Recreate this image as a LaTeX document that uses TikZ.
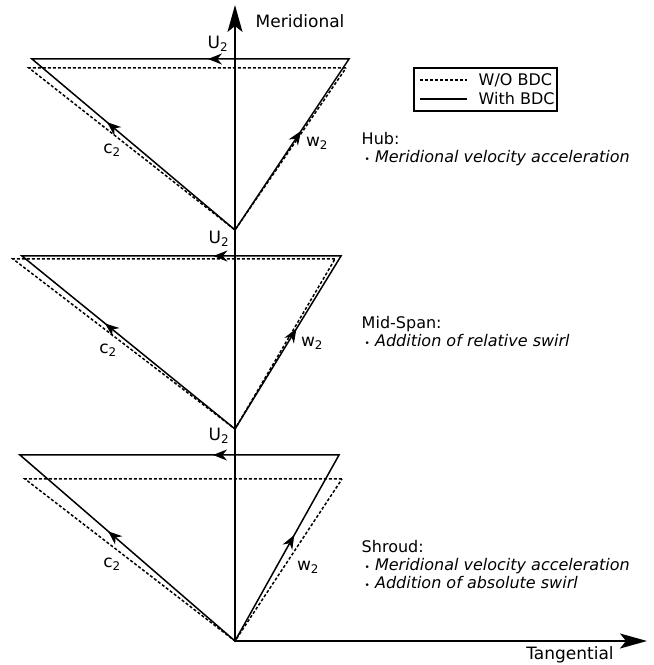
\documentclass[tikz,border=0pt]{standalone}
\usepackage{fontspec}
\setmainfont{DejaVu Sans}
\usetikzlibrary{arrows.meta,decorations.markings}

\begin{document}
\begin{tikzpicture}[x=1pt,y=1pt,line width=1.5pt,
    axis/.style={-{Stealth[length=27pt,width=15pt,inset=6pt]}},
    vec/.style={postaction={decorate},decoration={markings,
        mark=at position #1 with {\arrow{Stealth[length=14pt,width=11pt,inset=4.5pt]}}}},
    wobdc/.style={dash pattern=on 3pt off 2pt},
    lbl/.style={font=\fontsize{16}{18}\selectfont,inner sep=0pt},
    vlabel/.style={font=\fontsize{17}{19}\selectfont,inner sep=0pt},
    note/.style={lbl,align=left,anchor=west},
    axlabel/.style={font=\fontsize{17}{19}\selectfont,inner sep=0pt}]

  \useasboundingbox (-235,-24) rectangle (419,641);

  % axes
  \coordinate (o) at (0,0);
  \coordinate (ytip) at (0,636);
  \coordinate (xtip) at (412,0);
  \draw[axis] (o) -- (ytip);
  \draw[axis] (o) -- (xtip);
  \node[axlabel,anchor=west] (mer) at (20,620) {Meridional};
  \node[axlabel] (tang) at (335,-14) {Tangential};

  % hub
  \coordinate (ha) at (0,411);
  \coordinate (hl) at (-203,582);
  \coordinate (hr) at (114,582);
  \coordinate (hdl) at (-206,573);
  \coordinate (hdr) at (111,573);
  \draw[wobdc] (hdr) -- (hdl) -- (ha) -- cycle;
  \draw (hr) -- (hl) -- (ha) -- cycle;
  \path[vec=0.445] (hr) -- (hl);
  \path[vec=0.63] (ha) -- (hl);
  \path[vec=0.58] (ha) -- (hr);
  \node[vlabel] (hu) at (-17,597) {U\textsubscript{2}};
  \node[vlabel] (hc) at (-123,491) {c\textsubscript{2}};
  \node[vlabel] (hw) at (82,498) {w\textsubscript{2}};

  % mid-span
  \coordinate (ma) at (0,212);
  \coordinate (ml) at (-213,385);
  \coordinate (mr) at (106,385);
  \coordinate (mdl) at (-222,382);
  \coordinate (mdr) at (100,382);
  \draw[wobdc] (mdr) -- (mdl) -- (ma) -- cycle;
  \draw (mr) -- (ml) -- (ma) -- cycle;
  \path[vec=0.40] (mr) -- (ml);
  \path[vec=0.61] (ma) -- (ml);
  \path[vec=0.58] (ma) -- (mr);
  \node[vlabel] (mu) at (-16,402) {U\textsubscript{2}};
  \node[vlabel] (mc) at (-127,291) {c\textsubscript{2}};
  \node[vlabel] (mw) at (77,298) {w\textsubscript{2}};

  % shroud
  \coordinate (sl) at (-215,186);
  \coordinate (sr) at (104,186);
  \coordinate (sdl) at (-210,162);
  \coordinate (sdr) at (107,162);
  \draw[wobdc] (sdr) -- (sdl) -- (o) -- cycle;
  \draw (sr) -- (sl) -- (o) -- cycle;
  \path[vec=0.395] (sr) -- (sl);
  \path[vec=0.59] (o) -- (sl);
  \path[vec=0.57] (o) -- (sr);
  \node[vlabel] (su) at (-16,205) {U\textsubscript{2}};
  \node[vlabel] (sc) at (-123,77) {c\textsubscript{2}};
  \node[vlabel] (sw) at (73,74) {w\textsubscript{2}};

  % legend
  \draw[line width=1.2pt] (179,530) rectangle (322,573);
  \coordinate (l1a) at (185,561);
  \coordinate (l1b) at (232,561);
  \coordinate (l2a) at (185,542);
  \coordinate (l2b) at (232,542);
  \draw[wobdc] (l1a) -- (l1b);
  \draw (l2a) -- (l2b);
  \node[lbl,anchor=west] (wo) at (243,561) {W/O BDC};
  \node[lbl,anchor=west] (wi) at (243,542) {With BDC};

  % notes
  \node[note] (hub) at (126,492) {Hub:\\
    \hspace{3pt}{\small •}\hspace{5pt}\textit{Meridional velocity acceleration}};
  \node[note] (mid) at (126,309) {Mid-Span:\\
    \hspace{3pt}{\small •}\hspace{5pt}\textit{Addition of relative swirl}};
  \node[note] (shr) at (126,76) {Shroud:\\
    \hspace{3pt}{\small •}\hspace{5pt}\textit{Meridional velocity acceleration}\\
    \hspace{3pt}{\small •}\hspace{5pt}\textit{Addition of absolute swirl}};
\end{tikzpicture}
\end{document}
